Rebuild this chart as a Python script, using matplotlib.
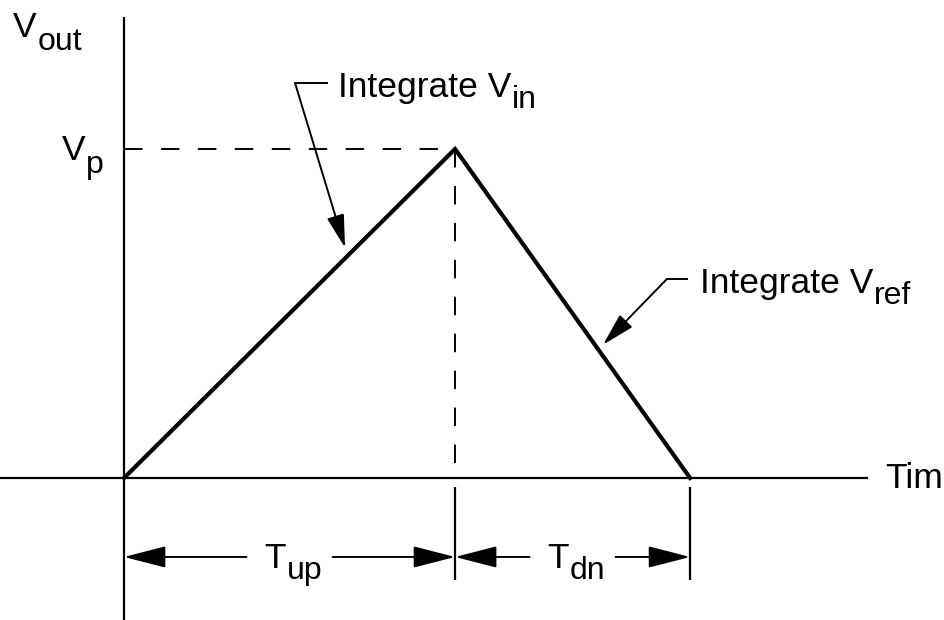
"""Dual-slope integrator output: ramp up while integrating Vin, ramp down on Vref."""

import matplotlib.pyplot as plt

plt.rcParams.update(
    {
        "font.family": ["Liberation Sans", "DejaVu Sans"],
        "font.size": 25,
    }
)

# Normalised timing: run-up lasts T_UP, run-down T_DN, peak output V_P.
T_UP = 1.0
T_DN = 0.71
V_P = 1.0

ramp_t = [0.0, T_UP, T_UP + T_DN]
ramp_v = [0.0, V_P, 0.0]

INK = "black"
FS = 25.5
SUB_FS = 23

fig = plt.figure(figsize=(9.45, 6.2), dpi=100)
ax = fig.add_axes([0, 0, 1, 1])
ax.set_xlim(-0.3746, 2.480)
ax.set_ylim(-0.4316, 1.4529)
ax.axis("off")


def sub_label(x, y, main, sub, drop=-2.5):
    """Main text with a lowered, slightly smaller suffix right after it."""
    t = ax.text(x, y, main, fontsize=FS, va="baseline", ha="left", color=INK)
    ax.annotate(
        sub, xy=(1, 0), xycoords=t, xytext=(0.5, drop), textcoords="offset points",
        fontsize=SUB_FS, va="baseline", ha="left", color=INK,
    )
    return t


# axes
ax.plot([0, 0], [-0.45, 1.401], color=INK, lw=1.6, solid_capstyle="butt")
ax.plot([-0.40, 2.248], [0, 0], color=INK, lw=1.6, solid_capstyle="butt")
ax.text(2.299, 0, "Time", fontsize=FS, va="center", ha="left", color=INK)

# output ramp
ax.plot(ramp_t, ramp_v, color=INK, lw=3.0, solid_joinstyle="miter")

# peak guide lines
dash = (0, (9.5, 9.5))
ax.plot([0, T_UP], [V_P, V_P], color=INK, lw=1.4, linestyle=dash)
ax.plot([T_UP, T_UP], [V_P, 0.02], color=INK, lw=1.4, linestyle=dash)

# extension ticks for the time dimensions
for xt in (T_UP, T_UP + T_DN):
    ax.plot([xt, xt], [-0.027, -0.31], color=INK, lw=1.6, solid_capstyle="butt")

# dimension arrows, split around their labels
dim_y = -0.240
half_gap = 0.13
dim_style = dict(arrowstyle="-|>,head_length=1.75,head_width=0.45", color=INK,
                 lw=1.4, shrinkA=0, shrinkB=0, mutation_scale=15)
spans = [(0.0, T_UP, "up"), (T_UP, T_UP + T_DN, "dn")]
for x0, x1, name in spans:
    mid = (x0 + x1) / 2
    ax.annotate("", xy=(x0, dim_y), xytext=(mid - half_gap, dim_y), arrowprops=dim_style)
    ax.annotate("", xy=(x1, dim_y), xytext=(mid + half_gap, dim_y), arrowprops=dim_style)
    sub_label(mid - 0.075, dim_y - 0.034, "T", name, drop=-3)

# axis labels
sub_label(-0.335, 1.340, "V", "out", drop=-4)
sub_label(-0.1875, 0.9666, "V", "p", drop=-4)

# phase callouts
lead = dict(arrowstyle="-|>,head_length=1.7,head_width=0.45", color=INK, lw=1.4,
            shrinkA=0, shrinkB=0, mutation_scale=12)

ax.plot([0.613, 0.5166], [1.2006, 1.2006], color=INK, lw=1.4)
ax.annotate("", xy=(0.6677, 0.70), xytext=(0.5166, 1.2006), arrowprops=lead)
sub_label(0.6465, 1.158, "Integrate V", "in", drop=-3)

ax.plot([1.701, 1.640], [0.605, 0.605], color=INK, lw=1.4)
ax.annotate("", xy=(1.447, 0.405), xytext=(1.640, 0.605), arrowprops=lead)
sub_label(1.740, 0.562, "Integrate V", "ref", drop=-3)

fig.savefig("out.png", dpi=100)
